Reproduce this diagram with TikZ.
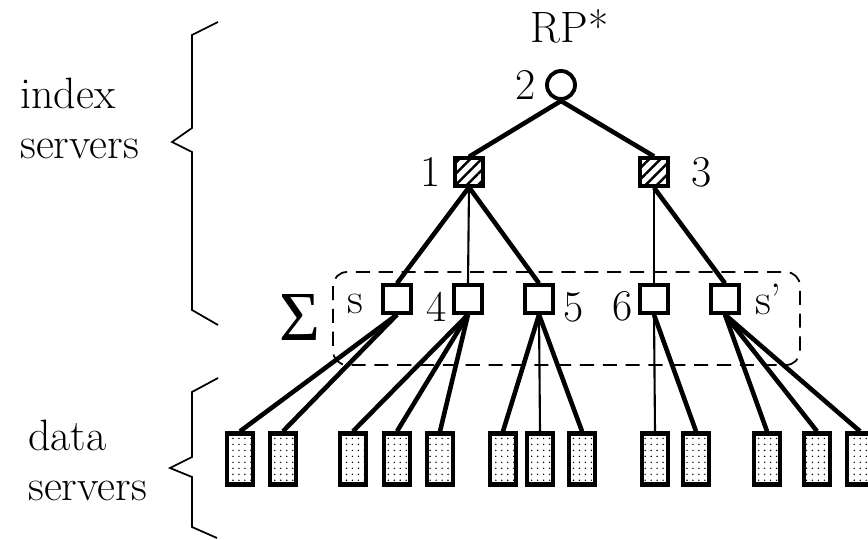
\documentclass[tikz,border=0pt]{standalone}
\usepackage{fontspec}
\newfontfamily\sigmafont{Liberation Serif}
\usetikzlibrary{positioning,patterns.meta}
\tikzset{
  rootnode/.style={circle,draw=black,line width=2.2pt,fill=white,minimum size=0.56cm,inner sep=0pt},
  idxnode/.style={rectangle,draw=black,line width=1.9pt,minimum size=0.56cm,inner sep=0pt,
    preaction={fill=white},pattern={Lines[angle=45,distance=4.5pt,line width=1.4pt]}},
  sumnode/.style={rectangle,draw=black,line width=1.9pt,minimum size=0.56cm,inner sep=0pt,fill=white},
  datanode/.style={rectangle,draw=black,line width=2.5pt,minimum width=0.52cm,minimum height=1.02cm,inner sep=0pt,
    preaction={fill=white},pattern={Dots[distance=3.4pt,radius=0.45pt]}},
  link/.style={line width=2.6pt,draw=black},
  thinlink/.style={line width=1.2pt,draw=black},
  numlabel/.style={inner sep=1pt},
  brace/.style={line width=1pt,draw=black},
  groupbox/.style={draw=black,line width=1pt,dash pattern=on 8pt off 5pt,rounded corners=8pt}
}

\begin{document}
\begin{tikzpicture}[x=0.02cm,y=-0.02cm,font=\fontsize{25}{28}\selectfont]
\useasboundingbox (0,0) rectangle (868,540);

% index servers
\node[rootnode] (root) at (561,85) {};
\node[idxnode] (i1) at (469,172) {};
\node[idxnode] (i3) at (654,172) {};

% summary layer
\draw[groupbox] (333,272) rectangle (800,365);
\node[sumnode] (ms) at (397,299) {};
\node[sumnode] (m4) at (468,299) {};
\node[sumnode] (m5) at (539,299) {};
\node[sumnode] (m6) at (654,299) {};
\node[sumnode] (mt) at (725,299) {};

% data servers
\node[datanode] (d1) at (240,459) {};
\node[datanode] (d2) at (283,459) {};
\node[datanode] (d3) at (353,459) {};
\node[datanode] (d4) at (397,459) {};
\node[datanode] (d5) at (440,459) {};
\node[datanode] (d6) at (503,459) {};
\node[datanode] (d7) at (540,459) {};
\node[datanode] (d8) at (582,459) {};
\node[datanode] (d9) at (655,459) {};
\node[datanode] (d10) at (696,459) {};
\node[datanode] (d11) at (767,459) {};
\node[datanode] (d12) at (817,459) {};
\node[datanode] (d13) at (860,459) {};

% labels
\node[above=11pt of root,xshift=5pt] (rp) {RP*};
\node[numlabel,left=4pt of root] (l2) {2};
\node[numlabel,left=6pt of i1] (l1) {1};
\node[numlabel,right=11pt of i3] (l3) {3};
\node[numlabel,left=9pt of ms,yshift=-3pt] (ls) {s};
\node[numlabel,left=2pt of m4,yshift=-4.5pt] (l4) {4};
\node[numlabel,right=4pt of m5,yshift=-4.5pt] (l5) {5};
\node[numlabel,left=2pt of m6,yshift=-4pt] (l6) {6};
\node[numlabel,right=7pt of mt] (lt) {s'};
\node[font=\fontsize{40}{40}\selectfont\sigmafont] (sig) at (300,317) {Σ};

\node[anchor=north west,align=left,inner sep=0pt] (idxlabel) at (20,78) {index\\servers};
\node[anchor=north west,align=left,inner sep=0pt] (datalabel) at (28,420) {data\\servers};

% braces
\draw[brace] (218,22) -- (192,35) -- (192,128) -- (172,142) -- (192,152) -- (192,310) -- (218,325);
\draw[brace] (218,378) -- (192,392) -- (192,457) -- (170,468) -- (192,477) -- (192,527) -- (217,538);

% tree edges
\draw[link] (root.south) -- (i1.north);
\draw[link] (root.south) -- (i3.north);
\draw[link] (i1.south) -- (ms.north);
\draw[thinlink] (i1.south) -- (m4.north);
\draw[link] (i1.south) -- (m5.north);
\draw[thinlink] (i3.south) -- (m6.north);
\draw[link] (i3.south) -- (mt.north);

\draw[link] (ms.south) -- (d1.north);
\draw[link] (ms.south) -- (d2.north);
\draw[link] (m4.south) -- (d3.north);
\draw[link] (m4.south) -- (d4.north);
\draw[link] (m4.south) -- (d5.north);
\draw[link] (m5.south) -- (d6.north);
\draw[thinlink] (m5.south) -- (d7.north);
\draw[link] (m5.south) -- (d8.north);
\draw[thinlink] (m6.south) -- (d9.north);
\draw[link] (m6.south) -- (d10.north);
\draw[link] (mt.south) -- (d11.north);
\draw[link] (mt.south) -- (d12.north);
\draw[link] (mt.south) -- (d13.north);
\end{tikzpicture}
\end{document}
